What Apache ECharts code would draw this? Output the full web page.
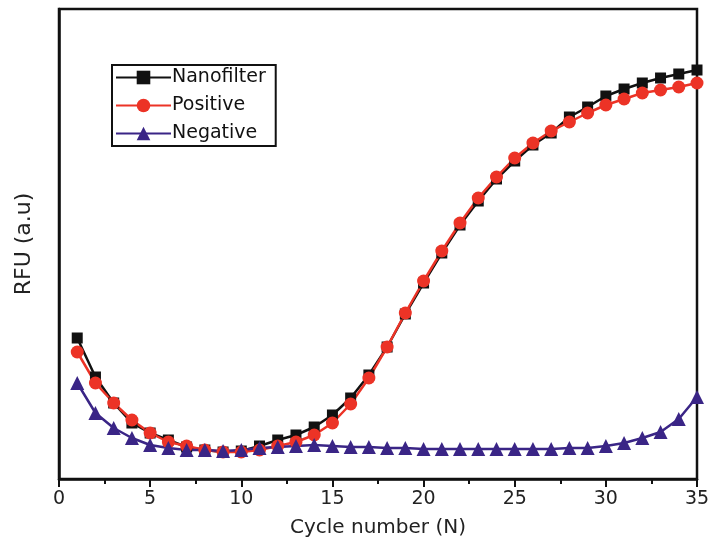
<!DOCTYPE html>
<html>
<head>
<meta charset="utf-8">
<script src="https://cdn.jsdelivr.net/npm/echarts@6/dist/echarts.min.js"></script>
<style>html,body{margin:0;padding:0;background:#fff;}#c{width:710px;height:540px;}</style>
</head>
<body>
<div id="c"></div>
<script>
var cycles = [1,2,3,4,5,6,7,8,9,10,11,12,13,14,15,16,17,18,19,20,21,22,23,24,25,26,27,28,29,30,31,32,33,34,35];
var nanofilter = [141,102,76,56,46,39,32,29,27,28,33,39,44,52,64,81,104,132,165,196,226,254,278,300,318,334,346,362,372,383,390,396,401,405,409];
var positive = [127,96,76,59,46,37,33,29,27,27,29,33,37,44,56,75,101,132,166,198,228,256,281,302,321,336,348,357,366,374,380,386,389,392,396];
var negative = [96,66,51,41,34,31,29,29,28,29,31,32,33,34,33,32,32,31,31,30,30,30,30,30,30,30,30,31,31,33,36,41,47,60,82];
var seriesNames = ['Nanofilter','Positive','Negative'];
var xTicks = [0,5,10,15,20,25,30,35];

function pairs(v){ return cycles.map(function(c,i){ return [c, v[i]]; }); }

var chart = echarts.init(document.getElementById('c'));
var font = 'DejaVu Sans, sans-serif';
chart.setOption({
  backgroundColor: '#fff',
  animation: false,
  grid: { left: 59, right: 13, top: 9, bottom: 61, outerBoundsMode: 'none', containLabel: false,
    show: true, borderColor: '#111', borderWidth: 2.5, backgroundColor: '#fff' },
  legend: {
    orient: 'vertical', left: 112, top: 65,
    data: seriesNames,
    itemWidth: 55, itemHeight: 17, itemGap: 9,
    padding: [3, 10, 3, 3],
    borderColor: '#111', borderWidth: 2, backgroundColor: '#fff',
    textStyle: { fontFamily: font, fontSize: 19, color: '#111', padding: [0,0,0,-4] }
  },
  xAxis: {
    type: 'value', min: 0, max: 35, interval: 5,
    name: 'Cycle number (N)', nameLocation: 'middle', nameGap: 39,
    nameTextStyle: { fontFamily: font, fontSize: 20, color: '#222' },
    axisLine: { lineStyle: { color: '#111', width: 2.5 } },
    axisTick: { length: 8, lineStyle: { color: '#111', width: 2 } },
    minorTick: { show: true, splitNumber: 2, length: 5, lineStyle: { color: '#111', width: 2 } },
    axisLabel: { fontFamily: font, fontSize: 19, color: '#222', margin: 11,
      formatter: function(v){ return xTicks.indexOf(v) >= 0 ? String(v) : ''; } },
    splitLine: { show: false }
  },
  yAxis: {
    type: 'value', min: 0, max: 470,
    name: 'RFU (a.u)', nameLocation: 'middle', nameGap: 24,
    nameTextStyle: { fontFamily: font, fontSize: 22, color: '#222' },
    axisLine: { show: true, lineStyle: { color: '#111', width: 2.5 } },
    axisTick: { show: false },
    axisLabel: { show: false },
    splitLine: { show: false }
  },
  series: [
    { name: 'Nanofilter', type: 'line', data: pairs(nanofilter), symbol: 'rect', symbolSize: 11,
      itemStyle: { color: '#111' }, lineStyle: { color: '#111', width: 2.5 } },
    { name: 'Positive', type: 'line', data: pairs(positive), symbol: 'circle', symbolSize: 13,
      itemStyle: { color: '#ec3326' }, lineStyle: { color: '#ec3326', width: 2.5 } },
    { name: 'Negative', type: 'line', data: pairs(negative), symbol: 'triangle', symbolSize: 14,
      itemStyle: { color: '#3a2586' }, lineStyle: { color: '#3a2586', width: 2.5 } }
  ]
});
</script>
</body>
</html>
